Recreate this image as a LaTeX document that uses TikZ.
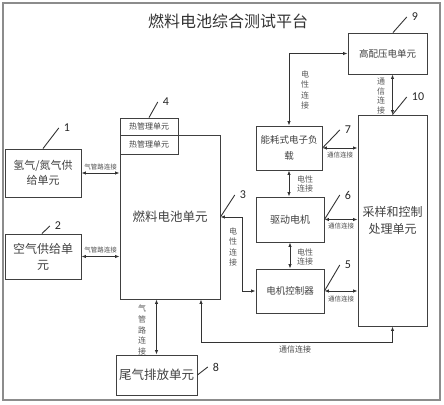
\documentclass[tikz,border=0pt]{standalone}
\usepackage{fontspec}
\setmainfont{Noto Sans CJK SC}
\newfontfamily\numfont{Carlito}
\usetikzlibrary{arrows.meta}

\begin{document}
\begin{tikzpicture}[x=1pt,y=-1pt,
    box/.style={draw=black!75,line width=0.9pt,align=center,inner sep=0pt,text=black!75},
    conn/.style={{Latex[length=4.5pt,width=3.5pt]}-{Latex[length=4.5pt,width=3.5pt]},line width=0.8pt,draw=black!80},
    lbl/.style={font=\fontsize{6.5}{7}\selectfont,text=black!70,inner sep=1pt},
    vlbl/.style={font=\fontsize{8}{10.3}\selectfont,text=black!65,align=center,inner sep=0pt},
    num/.style={font=\numfont\fontsize{12}{12}\selectfont,inner sep=5pt,text=black!85},
    lead/.style={line width=0.9pt,draw=black!80}]
            \useasboundingbox (0,0) rectangle (444,404);
            \draw[black!45,line width=1.3pt] (3,3) rectangle (440,400);
            \node[font=\fontsize{16}{16}\selectfont,text=black!80] (title) at (228,21) {燃料电池综合测试平台};
            \node[box,minimum width=76pt,minimum height=48pt,font=\fontsize{11}{15}\selectfont] (h2) at (43,173) {氢气/氮气供\\给单元};
            \node[box,minimum width=76pt,minimum height=45pt,font=\fontsize{12}{16}\selectfont] (air) at (43,256.5) {空气供给单\\元};
            \node[box,minimum width=100pt,minimum height=164pt,font=\fontsize{12.5}{14}\selectfont] (fc) at (170,217) {燃料电池单元};
            \node[box,minimum width=58pt,minimum height=17pt,font=\fontsize{8}{9}\selectfont] (tm1) at (149,126.5) {热管理单元};
            \node[box,minimum width=58pt,minimum height=19pt,font=\fontsize{8}{9}\selectfont] (tm2) at (149,144.5) {热管理单元};
            \node[box,minimum width=81pt,minimum height=40pt,font=\fontsize{12.5}{14}\selectfont] (tail) at (156.5,375) {尾气排放单元};
            \node[box,minimum width=79pt,minimum height=41pt,font=\fontsize{9.5}{11}\selectfont] (hv) at (387.5,53.5) {高配压电单元};
            \node[box,minimum width=66pt,minimum height=44pt,font=\fontsize{9.5}{16}\selectfont] (load) at (289,148) {能耗式电子负\\载};
            \node[box,minimum width=68pt,minimum height=45pt,font=\fontsize{10}{11}\selectfont] (motor) at (290,219.5) {驱动电机};
            \node[box,minimum width=68pt,minimum height=44pt,font=\fontsize{9.5}{11}\selectfont] (ctrl) at (290,291) {电机控制器};
            \node[box,minimum width=69pt,minimum height=211pt,font=\fontsize{12}{17}\selectfont] (proc) at (392.5,220.5) {采样和控制\\处理单元};
            \draw[conn] (h2.east) -- (h2.east -| fc.west) node[lbl,midway,above=2pt] {气管路连接};
            \draw[conn] (air.east) -- (air.east -| fc.west) node[lbl,midway,above=2pt] {气管路连接};
            \draw[conn] (tail.north) -- (tail.north |- fc.south);
            \node[vlbl,font=\fontsize{8}{10.7}\selectfont] (gaslbl) at (142,330) {气\\管\\路\\连\\接};
            \coordinate (bus) at (201,342);
            \draw[conn] (bus |- fc.south) -- (bus) -| (proc.south);
            \node[lbl,font=\fontsize{8}{9}\selectfont] (buslbl) at (295,349) {通信连接};
            \draw[conn] (fc.east) -- ++(22,0) |- (ctrl.west);
            \node[vlbl] (fclbl) at (233,247) {电\\性\\连\\接};
            \draw[conn] (hv.west) -| (load.north);
            \node[vlbl] (hvlbl) at (305,90) {电\\性\\连\\接};
            \draw[conn] (proc.north) -- (proc.north |- hv.south);
            \node[vlbl,font=\fontsize{8}{9.5}\selectfont] (proclbl) at (381,96) {通\\信\\连\\接};
            \draw[conn] (load.east) -- (load.east -| proc.west) node[lbl,midway,below=3pt] {通信连接};
            \draw[conn] (load.south) -- (load.south |- motor.north);
            \node[vlbl,font=\fontsize{8}{9}\selectfont] (loadlbl) at (305,184) {电性\\连接};
            \draw[conn] (motor.east) -- (motor.east -| proc.west) node[lbl,midway,below=2pt] {通信连接};
            \draw[conn] (motor.south) -- (motor.south |- ctrl.north);
            \node[vlbl,font=\fontsize{8}{9}\selectfont] (motorlbl) at (305,257) {电性\\连接};
            \draw[conn] (ctrl.east) -- (ctrl.east -| proc.west) node[lbl,midway,below=4pt] {通信连接};
            \node[num] (n1) at (67,128) {1};
            \draw[lead] (h2.north) -- (n1.west);
            \node[num] (n2) at (58,226) {2};
            \draw[lead] ([xshift=-1pt]air.north) -- (n2.west);
            \node[num] (n3) at (243,195) {3};
            \draw[lead] (fc.east) -- (n3.west);
            \node[num] (n4) at (166,102) {4};
            \draw[lead] (tm1.north) -- (n4.west);
            \node[num] (n5) at (348,265) {5};
            \draw[lead] (ctrl.east) -- (n5.west);
            \node[num] (n6) at (348,195) {6};
            \draw[lead] (motor.east) -- (n6.west);
            \node[num] (n7) at (348,130) {7};
            \draw[lead] (load.east) -- (n7.west);
            \node[num] (n8) at (216,367) {8};
            \draw[lead] (tail.east) -- (n8.west);
            \node[num] (n9) at (415,17) {9};
            \draw[lead] ([xshift=5.5pt]hv.north) -- (n9.west);
            \node[num] (n10) at (418,97) {10};
            \draw[lead] (proc.north) -- (n10.west);
        \end{tikzpicture}
\end{document}
